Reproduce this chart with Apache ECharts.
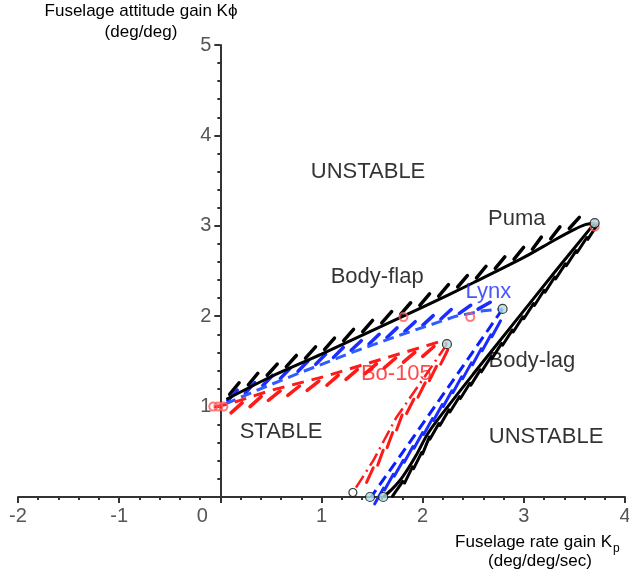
<!DOCTYPE html>
<html>
<head>
<meta charset="utf-8">
<script src="https://cdn.jsdelivr.net/npm/echarts@6/dist/echarts.min.js"></script>
<style>
  html, body { margin: 0; padding: 0; background: #fff; }
  #chart { width: 629px; height: 579px; }
</style>
</head>
<body>
<div id="chart"></div>
<script>
// stability boundaries (Kp, Kphi)
var pumaFlap = [[0.06, 1.08], [0.5, 1.33], [1.0, 1.58], [1.5, 1.84], [2.0, 2.1], [2.5, 2.37], [3.0, 2.65], [3.3, 2.84], [3.5, 2.96], [3.6, 3.01], [3.7, 3.03]];
var pumaLag = [[3.7, 3.03], [3.3, 2.48], [2.9, 1.92], [2.5, 1.36], [2.2, 0.93], [2.05, 0.7], [1.93, 0.45], [1.8, 0.22], [1.7, 0.09], [1.61, 0.0]];
var lynxFlap = [[0.05, 1.03], [0.36, 1.18], [0.8, 1.38], [1.35, 1.62], [1.8, 1.8], [2.33, 2.0], [2.6, 2.06], [2.79, 2.08]];
var lynxLag = [[2.79, 2.08], [2.45, 1.53], [2.1, 0.97], [1.8, 0.49], [1.49, 0.0]];
var boFlap = [[-0.05, 1.0], [0.09, 1.03], [0.5, 1.18], [1.02, 1.33], [1.67, 1.55], [2.0, 1.66], [2.2, 1.73], [2.24, 1.69]];
var boLag = [[2.24, 1.69], [1.97, 1.25], [1.74, 0.88], [1.51, 0.4], [1.31, 0.05]];

var endPoints = [[3.7, 3.03], [2.79, 2.08], [2.24, 1.69], [1.48, 0.0], [1.61, 0.0]];
var redCircles = [[1.81, 1.99], [2.47, 1.99], [3.7, 2.99], [-0.07, 1.0], [-0.02, 1.0], [0.03, 1.0]];
var blackCircles = [[1.31, 0.05]];

var noteText = ['UNSTABLE', 'Puma', 'Body-flap', 'Lynx', 'Bo-105', 'Body-lag', 'STABLE', 'UNSTABLE'];
var noteX = [1.46, 2.93, 1.55, 2.65, 1.74, 3.08, 0.6, 3.22];
var noteY = [3.6, 3.08, 2.43, 2.27, 1.36, 1.51, 0.72, 0.66];

var FONT = 'Liberation Sans, Arial, sans-serif';
var BLUE = '#1a2cff';
var RED = '#ff1a1a';
var noteColors = { 'Lynx': BLUE, 'Bo-105': RED };

var GRID = { left: 18, right: 4, top: 45, bottom: 82 };
var XMIN = -2, XMAX = 4;
// y axis sits at Kp = 0, inside the plot
var yAxisShift = (629 - GRID.left - GRID.right) * (0 - XMIN) / (XMAX - XMIN);

// short slanted strokes along a boundary, placed through the axes
function hatch(path, color, o) {
  return {
    type: 'custom',
    silent: true,
    z: 1,
    data: [[0, 0]],
    renderItem: function (params, api) {
      var pts = path.map(function (p) { return api.coord(p); });
      var segs = [], total = 0;
      for (var i = 1; i < pts.length; i++) {
        var dx = pts[i][0] - pts[i - 1][0], dy = pts[i][1] - pts[i - 1][1];
        var L = Math.sqrt(dx * dx + dy * dy);
        if (L < 0.01) continue;
        segs.push({ x: pts[i - 1][0], y: pts[i - 1][1], dx: dx / L, dy: dy / L, L: L, s0: total });
        total += L;
      }
      var kids = [], k = 0;
      for (var s = o.start; s < total - o.end; s += o.gap) {
        while (k < segs.length - 1 && s > segs[k].s0 + segs[k].L) k++;
        var g = segs[k], u = s - g.s0;
        var px = g.x + g.dx * u, py = g.y + g.dy * u;
        var cx = px + g.dy * o.side * o.off, cy = py - g.dx * o.side * o.off;
        var a = Math.atan2(g.dy, g.dx) - o.tilt * Math.PI / 180;
        var hx = Math.cos(a) * o.len / 2, hy = Math.sin(a) * o.len / 2;
        kids.push({
          type: 'line',
          shape: { x1: cx - hx, y1: cy - hy, x2: cx + hx, y2: cy + hy },
          style: { stroke: color, lineWidth: o.w, lineCap: 'round' }
        });
      }
      return { type: 'group', children: kids };
    }
  };
}

function curve(data, color, width, type, smooth) {
  return {
    type: 'line',
    data: data,
    showSymbol: false,
    smooth: smooth || false,
    silent: true,
    z: 2,
    lineStyle: { color: color, width: width, type: type }
  };
}

var chart = echarts.init(document.getElementById('chart'));

var option = {
  animation: false,
  backgroundColor: '#fff',
  grid: { left: GRID.left, right: GRID.right, top: GRID.top, bottom: GRID.bottom, containLabel: false, outerBoundsMode: 'none' },
  xAxis: {
    type: 'value',
    min: XMIN,
    max: XMAX,
    interval: 1,
    axisLine: { lineStyle: { color: '#333', width: 2 } },
    axisTick: { length: 6, lineStyle: { color: '#333', width: 2 } },
    minorTick: { show: true, splitNumber: 5, length: 3, lineStyle: { color: '#333', width: 2 } },
    splitLine: { show: false },
    axisLabel: {
      margin: 9,
      fontSize: 20,
      color: '#555',
      fontFamily: FONT,
      formatter: function (v) { return v === 0 ? '{z|0}' : String(v); },
      rich: { z: { fontSize: 20, color: '#555', fontFamily: FONT, padding: [0, 36, 0, 0] } }
    }
  },
  yAxis: {
    type: 'value',
    min: 0,
    max: 5,
    interval: 1,
    offset: -yAxisShift,
    axisLine: { onZero: false, lineStyle: { color: '#333', width: 2 } },
    axisTick: { length: 6, lineStyle: { color: '#333', width: 2 } },
    minorTick: { show: true, splitNumber: 5, length: 3, lineStyle: { color: '#333', width: 2 } },
    splitLine: { show: false },
    axisLabel: { showMinLabel: false, margin: 9, fontSize: 20, color: '#555', fontFamily: FONT }
  },
  graphic: [
    { type: 'text', x: 141, y: 3, style: { text: 'Fuselage attitude gain K\u03d5', font: '17px ' + FONT, fill: '#000', textAlign: 'center', textVerticalAlign: 'top' } },
    { type: 'text', x: 141, y: 24, style: { text: '(deg/deg)', font: '17px ' + FONT, fill: '#000', textAlign: 'center', textVerticalAlign: 'top' } },
    { type: 'text', x: 612, y: 534, style: { text: 'Fuselage rate gain K', font: '17px ' + FONT, fill: '#000', textAlign: 'right', textVerticalAlign: 'top' } },
    { type: 'text', x: 613, y: 543, style: { text: 'p', font: '12px ' + FONT, fill: '#000', textAlign: 'left', textVerticalAlign: 'top' } },
    { type: 'text', x: 540, y: 553, style: { text: '(deg/deg/sec)', font: '17px ' + FONT, fill: '#000', textAlign: 'center', textVerticalAlign: 'top' } }
  ],
  series: [
    hatch(pumaFlap, '#000', { side: 1, off: 6, len: 15, tilt: 24, gap: 21, w: 3.5, start: 12, end: 0 }),
    hatch(pumaLag, '#000', { side: 1, off: 4, len: 18, tilt: 6, gap: 17, w: 3, start: 8, end: 6 }),
    hatch(lynxFlap, BLUE, { side: 1, off: 5, len: 14, tilt: 24, gap: 19, w: 3.5, start: 10, end: 6 }),
    hatch(lynxLag, BLUE, { side: 1, off: 6, len: 18, tilt: 6, gap: 17, w: 3, start: 20, end: 4 }),
    hatch(boFlap, RED, { side: -1, off: 6, len: 15, tilt: 24, gap: 20, w: 3.5, start: 20, end: 6 }),
    hatch(boLag, RED, { side: 1, off: 5, len: 16, tilt: 8, gap: 20, w: 3, start: 12, end: 8 }),
    curve(pumaFlap, '#000', 3, 'solid', 0.3),
    curve(pumaLag, '#000', 3, 'solid', 0.3),
    curve(lynxFlap, '#2f5cff', 3, [11, 6]),
    curve(lynxLag, '#0a1fff', 3, [11, 6]),
    curve(boFlap, RED, 3, [12, 8]),
    curve(boLag, RED, 2.5, [14, 5, 2, 5]),
    {
      type: 'scatter', data: redCircles, symbol: 'circle', symbolSize: 8, silent: true, z: 3,
      itemStyle: { color: 'rgba(255,255,255,0)', borderColor: '#ff5a5a', borderWidth: 2 }
    },
    {
      type: 'scatter', data: blackCircles, symbol: 'circle', symbolSize: 8, silent: true, z: 3,
      itemStyle: { color: '#fff', borderColor: '#000', borderWidth: 1.2 }
    },
    {
      type: 'scatter', data: endPoints, symbol: 'circle', symbolSize: 9, silent: true, z: 4,
      itemStyle: { color: '#b2dfe3', borderColor: '#111', borderWidth: 1.2 }
    },
    {
      type: 'scatter',
      silent: true,
      z: 5,
      symbolSize: 0,
      data: noteText.map(function (t, i) {
        return {
          value: [noteX[i], noteY[i]],
          label: { formatter: t, color: noteColors[t] || '#000' }
        };
      }),
      label: { show: true, position: 'inside', fontSize: 22, fontFamily: FONT }
    }
  ]
};

chart.setOption(option);
</script>
</body>
</html>
